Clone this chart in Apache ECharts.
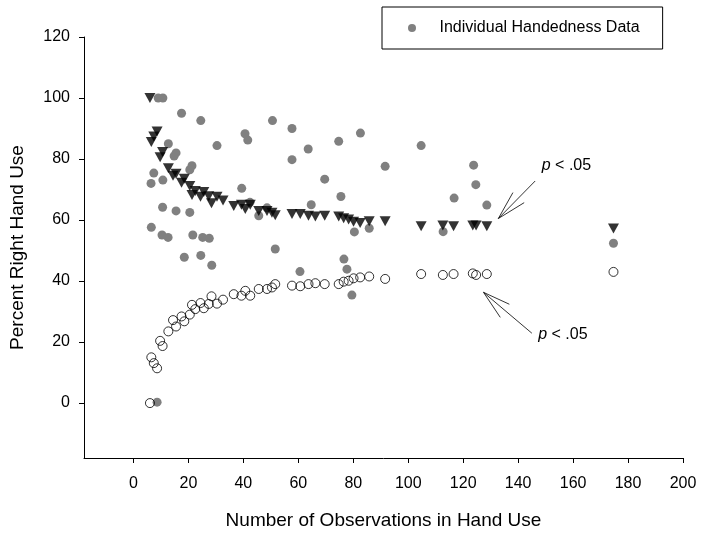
<!DOCTYPE html>
<html>
<head>
<meta charset="utf-8">
<script src="https://cdn.jsdelivr.net/npm/echarts@6/dist/echarts.min.js"></script>
<style>
html,body{margin:0;padding:0;background:#fff;}
#chart{width:702px;height:535px;}
</style>
</head>
<body>
<div id="chart"></div>
<script>
// Observation counts (N) at which the p < .05 thresholds are drawn
const obsN = [6, 6.5, 7.4, 8.6, 9.7, 10.6, 12.7, 14.4, 15.5, 17.5, 18.5, 20.5, 21.3, 22.5, 24.4, 25.6, 27.4, 28.4, 30.4, 32.6, 36.5, 39.3, 40.7, 42.5, 45.6, 48.6, 50.4, 51.6, 57.7, 60.7, 63.7, 66.2, 69.6, 74.7, 76.5, 78.3, 80.1, 82.5, 85.8, 91.6, 104.7, 112.6, 116.5, 123.5, 124.7, 128.6, 174.7];
// Upper threshold (filled inverted triangles)
const upperPct = [100, 85.6, 87.4, 89, 80.6, 82.3, 77, 74.5, 75.2, 72.2, 73.5, 71.2, 68.2, 69.5, 67.6, 69.2, 67.8, 65.5, 67.6, 66.4, 64.6, 65, 63.6, 65, 63, 63, 62.4, 61.6, 62, 62, 61.4, 61.2, 61.4, 61.2, 60.6, 60.2, 59.4, 59, 59.6, 59.6, 58, 58.2, 58, 58.2, 58.2, 58, 57.2];
// Lower threshold (open circles)
const lowerPct = [0, 15, 13.1, 11.4, 20.4, 18.7, 23.5, 27.2, 25.1, 28.4, 26.8, 29, 32.2, 30.8, 32.8, 31.1, 32.5, 35, 32.6, 33.9, 35.7, 35.2, 36.8, 35.2, 37.4, 37.4, 37.9, 39, 38.5, 38.3, 39, 39.3, 39, 39, 39.8, 40.1, 40.9, 41.2, 41.5, 40.7, 42.3, 42, 42.3, 42.5, 42, 42.3, 43];
// Individual handedness data (grey dots)
const indivN = [9, 10.7, 17.5, 24.5, 30.4, 12.7, 14.8, 15.5, 21.3, 20.5, 7.4, 10.7, 6.4, 10.6, 15.5, 20.5, 6.5, 10.4, 12.6, 21.6, 25.2, 27.6, 18.5, 24.5, 28.5, 8.6, 40.6, 41.6, 50.6, 57.7, 63.6, 57.7, 74.7, 82.6, 69.6, 91.6, 104.7, 39.4, 75.5, 64.7, 42.4, 48.6, 45.6, 80.4, 85.8, 112.7, 51.6, 76.6, 77.7, 60.6, 79.5, 123.8, 124.6, 116.7, 128.6, 174.7];
const indivPct = [100, 100, 95, 92.6, 84.4, 85, 81, 82, 77.8, 76.5, 75.4, 73.1, 72, 64.2, 63, 62.5, 57.6, 55.1, 54.3, 55.1, 54.3, 54, 47.8, 48.4, 45.2, 0.3, 88.3, 86.2, 92.6, 90, 83.3, 79.8, 85.8, 88.5, 73.4, 77.6, 84.4, 70.4, 67.7, 65, 65.8, 64, 61.4, 56.1, 57.3, 56.2, 50.5, 47.2, 43.9, 43.1, 35.4, 78, 71.6, 67.2, 64.9, 52.4];
// Tick labels
const xTicks = [0, 20, 40, 60, 80, 100, 120, 140, 160, 180, 200];
const yTicks = [0, 20, 40, 60, 80, 100, 120];

const FONT = '"Liberation Sans", Arial, sans-serif';
const chart = echarts.init(document.getElementById('chart'), null, {renderer: 'canvas'});

const zip = (xs, ys) => xs.map((x, i) => [x, ys[i]]);

const axisCommon = {
  axisLine: {show: true, onZero: false, lineStyle: {color: '#000', width: 1}},
  axisTick: {show: true, inside: false, length: 5, lineStyle: {color: '#000', width: 1}},
  splitLine: {show: false},
  axisLabel: {color: '#000', fontFamily: FONT, fontSize: 16},
  nameTextStyle: {color: '#000', fontFamily: FONT, fontSize: 19}
};

const option = {
  animation: false,
  backgroundColor: '#fff',
  grid: {left: 82, right: 19, top: 37, bottom: 76.5, containLabel: false},
  legend: {
    data: ['Individual Handedness Data'],
    left: 382, top: 7,
    orient: 'horizontal',
    padding: [13, 23, 13, 26],
    itemHeight: 8,
    borderColor: '#000', borderWidth: 1,
    backgroundColor: '#fff',
    selectedMode: false,
    textStyle: {color: '#000', fontFamily: FONT, fontSize: 16, lineHeight: 16, padding: [0, 0, 0, 10]}
  },
  xAxis: Object.assign({}, axisCommon, {
    type: 'value', min: -18, max: 200,
    name: 'Number of Observations in Hand Use',
    nameLocation: 'middle', nameGap: 53,
    axisTick: Object.assign({}, axisCommon.axisTick, {customValues: xTicks}),
    axisLabel: Object.assign({}, axisCommon.axisLabel, {customValues: xTicks, margin: 18})
  }),
  yAxis: Object.assign({}, axisCommon, {
    type: 'value', min: -18, max: 120,
    name: 'Percent Right Hand Use',
    nameLocation: 'middle', nameGap: 57,
    axisTick: Object.assign({}, axisCommon.axisTick, {customValues: yTicks}),
    axisLabel: Object.assign({}, axisCommon.axisLabel, {customValues: yTicks, margin: 14})
  }),
  series: [
    {
      name: 'Individual Handedness Data',
      type: 'scatter',
      symbol: 'circle',
      symbolSize: 9,
      itemStyle: {color: '#808080', opacity: 1},
      data: zip(indivN, indivPct),
      z: 2
    },
    {
      name: 'Lower p < .05',
      type: 'scatter',
      symbol: 'circle',
      symbolSize: 9,
      itemStyle: {color: 'rgba(0,0,0,0)', borderColor: '#000', borderWidth: 1},
      data: zip(obsN, lowerPct),
      z: 3
    },
    {
      name: 'Upper p < .05',
      type: 'scatter',
      symbol: 'triangle',
      symbolRotate: 180,
      symbolSize: [11, 10],
      itemStyle: {color: '#000'},
      data: zip(obsN, upperPct),
      z: 4
    }
  ]
};
chart.setOption(option);

// Annotation arrows, defined in data coordinates
const annotations = [
  {tip: [132.8, 60.5], tail: [146.2, 72.8], barbs: [[138.1, 69.0], [142.2, 65.7]], label: [148.6, 77.7]},
  {tip: [127.4, 36.3], tail: [145.0, 22.9], barbs: [[136.8, 32.4], [133.5, 28.1]], label: [147.3, 22.6]}
];
const px = p => chart.convertToPixel({gridIndex: 0}, p);
const elements = [];
annotations.forEach(a => {
  const t = px(a.tip);
  const segs = [a.tail].concat(a.barbs);
  segs.forEach(s => {
    const e = px(s);
    elements.push({type: 'line', silent: true, z: 10,
      shape: {x1: t[0], y1: t[1], x2: e[0], y2: e[1]},
      style: {stroke: '#000', lineWidth: 0.8}});
  });
  const l = px(a.label);
  elements.push({type: 'text', silent: true, z: 10, x: l[0], y: l[1],
    style: {
      text: '{i|p} < .05',
      fontFamily: FONT, fontSize: 16, fill: '#000',
      verticalAlign: 'middle', align: 'left',
      rich: {i: {fontStyle: 'italic', fontFamily: FONT, fontSize: 16, fill: '#000'}}
    }});
});
chart.setOption({graphic: {elements: elements}});
</script>
</body>
</html>
